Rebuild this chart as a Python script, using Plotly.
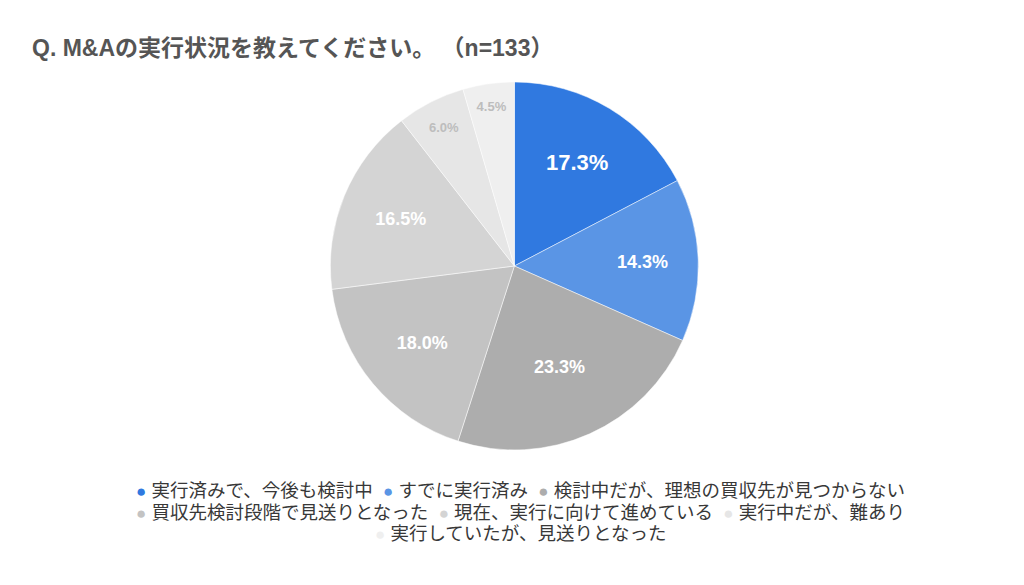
import plotly.graph_objects as go

labels = [
    "実行済みで、今後も検討中",
    "すでに実行済み",
    "検討中だが、理想の買収先が見つからない",
    "買収先検討段階で見送りとなった",
    "現在、実行に向けて進めている",
    "実行中だが、難あり",
    "実行していたが、見送りとなった",
]
values = [17.3, 14.3, 23.3, 18.0, 16.5, 6.0, 4.5]
colors = ["#3079e0", "#5a95e5", "#adadad", "#c3c3c3", "#d4d4d4", "#e6e6e6", "#efefef"]
text_colors = ["#ffffff"] * 5 + ["#bdbdbd"] * 2
text_sizes = [22, 18, 18, 18, 18, 13, 13]
legend_rows = [[0, 1, 2], [3, 4, 5], [6]]

FONT = "Liberation Sans, Arial, Noto Sans CJK JP, sans-serif"

fig = go.Figure(go.Pie(
    labels=labels,
    values=values,
    sort=False,
    direction="clockwise",
    rotation=0,
    marker=dict(colors=colors, line=dict(color="white", width=0.5)),
    texttemplate="%{value:.1f}%",
    textposition="inside",
    insidetextorientation="horizontal",
    textfont=dict(color=text_colors, size=text_sizes, family="Liberation Sans, Arial", weight="bold"),
    hoverinfo="label+percent",
    showlegend=False,
    domain=dict(x=[0.3145, 0.6745], y=[0.2445, 0.8735]),
))

# legend drawn as centred rows of text (rows are centred in the reference)
row_y = [482, 504, 525]
for row, y in zip(legend_rows, row_y):
    parts = [
        f"<span style='color:{colors[i]};font-size:17px'>●</span> {labels[i]}"
        for i in row
    ]
    fig.add_annotation(
        text="  ".join(parts),
        x=0.5, xref="paper", xanchor="center",
        y=1 - y / 585, yref="paper", yanchor="middle",
        showarrow=False,
        font=dict(size=18.5, color="#383838", family=FONT),
    )

fig.update_layout(
    title=dict(
        text="<b>Q. M&Aの実行状況を教えてください。 （n=133）</b>",
        x=24 / 1024, xanchor="left",
        y=1 - 40 / 585, yanchor="middle",
        pad=dict(l=0),
        font=dict(size=23, color="#555555", family=FONT),
    ),
    width=1024,
    height=585,
    margin=dict(l=0, r=0, t=0, b=0),
    paper_bgcolor="white",
    plot_bgcolor="white",
)

fig.write_html("out.html")
